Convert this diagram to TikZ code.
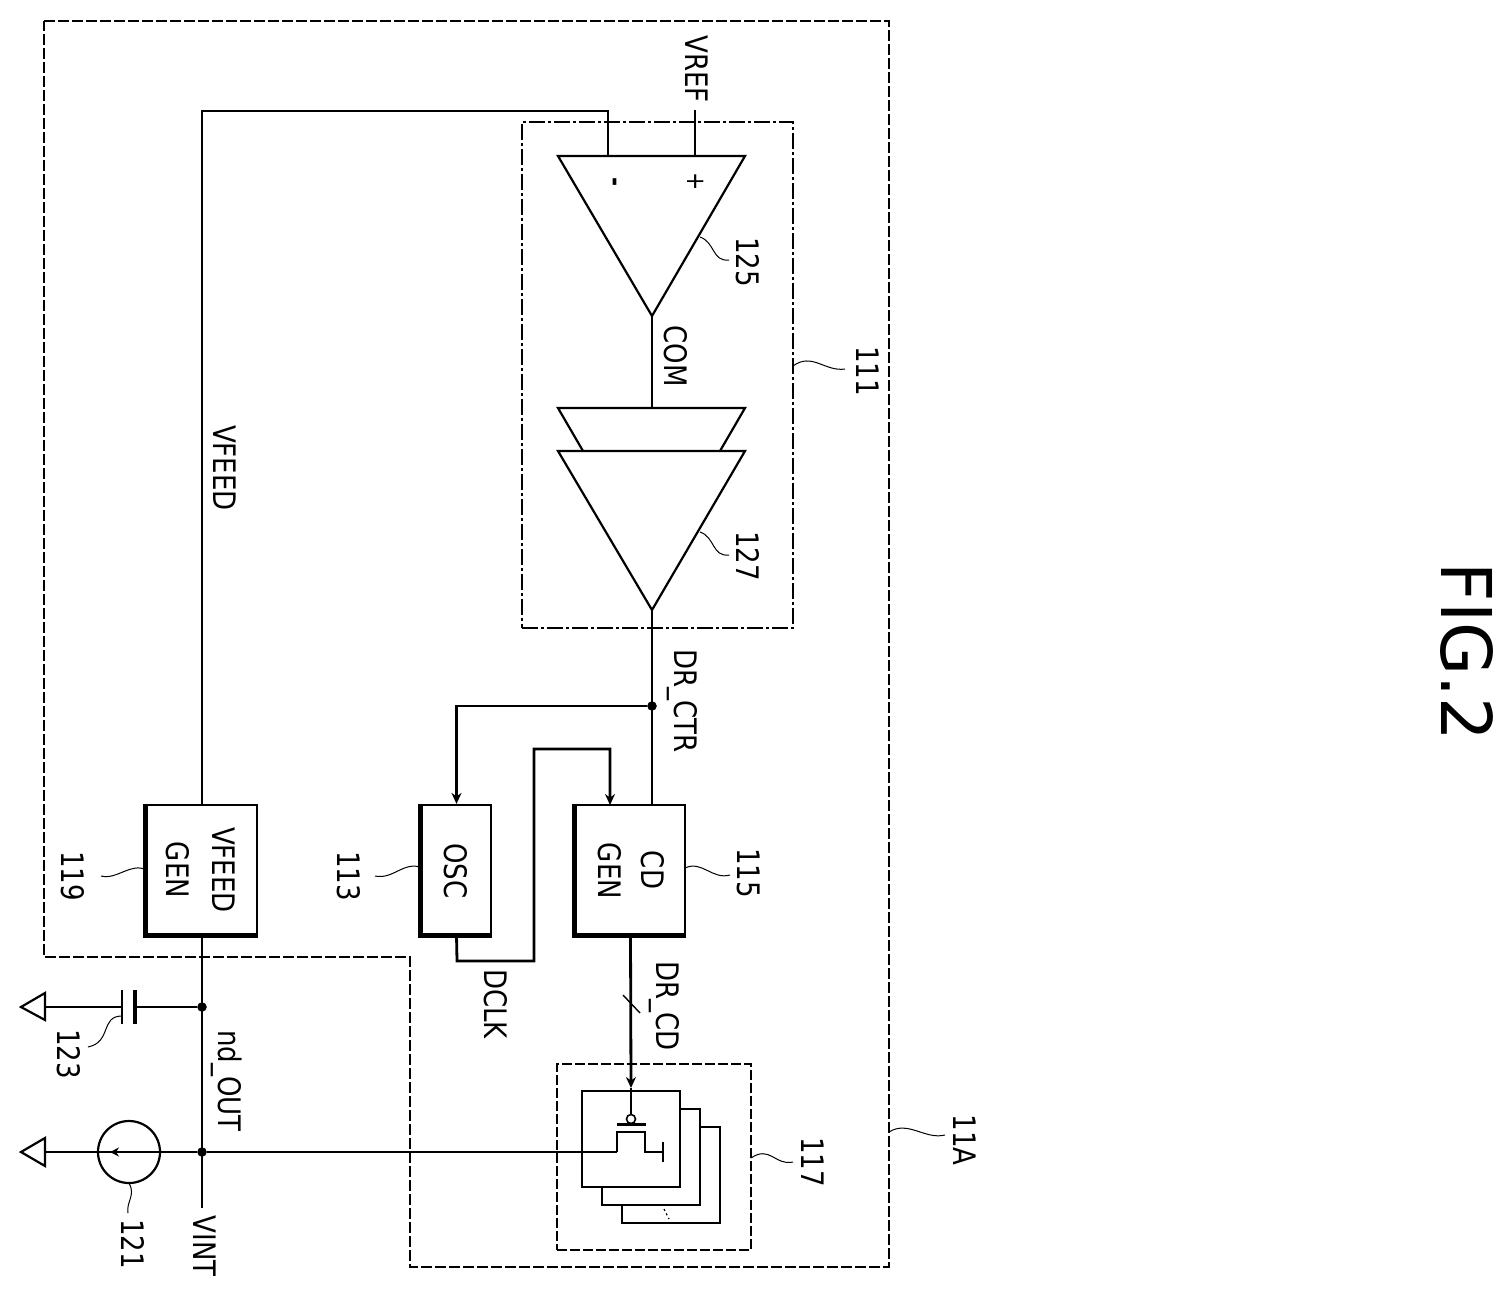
\documentclass[tikz,border=0pt]{standalone}
\usepackage{fontspec}
\setmainfont[FakeStretch=0.84]{DejaVu Sans}
\newfontfamily\figfont[FakeStretch=0.98]{DejaVu Sans}
\usetikzlibrary{arrows.meta}
\tikzset{
  wire/.style={line width=2.8pt,line join=miter},
  thin wire/.style={line width=2.2pt},
  flow/.style={wire,-{Stealth[length=11pt,width=10pt]}},
  lbl/.style={rotate=-90,inner sep=0pt,font=\fontsize{31}{33}\selectfont,text=black},
  fig/.style={rotate=-90,inner sep=0pt,font=\figfont\fontsize{70}{72}\selectfont,text=black},
  blk/.style={draw,line width=2.2pt,minimum width=#1,inner sep=0pt},
  heavy/.style={line width=5pt,line cap=butt,line join=miter},
  outer/.style={draw,line width=2.2pt,dash pattern=on 11pt off 3pt},
  dashdot/.style={draw,line width=2.2pt,dash pattern=on 16pt off 3pt on 3pt off 3pt},
  sub/.style={draw,line width=2.2pt,dash pattern=on 10pt off 3pt},
  lead/.style={line width=1pt},
  junction/.style={circle,fill=black,draw=black,inner sep=0pt,minimum size=9pt},
  gnd/.style={draw,line width=2.2pt,line join=miter,fill=white},
}
\begin{document}
\begin{tikzpicture}[x=1pt,y=-1pt]
\useasboundingbox (0,0) rectangle (1511,1298);
\fill[white] (0,0) rectangle (1511,1298);

% ---- enclosures
\path[outer] (44,21) -- (889,21) -- (889,1267) -- (410,1267) -- (410,957) -- (44,957) -- cycle;
\node[dashdot,minimum width=271pt,minimum height=506pt,inner sep=0pt] (b111) at (657.5,375) {};
\node[sub,minimum width=194pt,minimum height=186pt,inner sep=0pt] (b117) at (654,1157) {};

% ---- blocks
\node[blk=110pt,minimum height=129pt] (vgen) at (202,869.5) {};
\node[blk=69pt,minimum height=129pt] (osc) at (456.5,869.5) {};
\node[blk=109pt,minimum height=129pt] (cdgen) at (630.5,869.5) {};
\draw[heavy] (vgen.north west) -- (vgen.south west) -- (vgen.south east);
\draw[heavy] (osc.north west) -- (osc.south west) -- (osc.south east);
\draw[heavy] (cdgen.north west) -- (cdgen.south west) -- (cdgen.south east);
\node[lbl] at (224,870) {VFEED};
\node[lbl] at (178,870) {GEN};
\node[lbl] at (456,871) {OSC};
\node[lbl] at (653,870) {CD};
\node[lbl] at (610,871) {GEN};

% ---- amplifier coordinates
\coordinate (a1l) at (558,156);
\coordinate (a1r) at (745,156);
\coordinate (a1o) at (652,316);
\coordinate (a1m) at (608,156);
\coordinate (a1p) at (695,156);
\coordinate (bkl) at (558,408);
\coordinate (bkr) at (745,408);
\coordinate (bko) at (652,408);
\coordinate (bksl) at (583,451);
\coordinate (bksr) at (720,451);
\coordinate (a2l) at (558,451);
\coordinate (a2r) at (745,451);
\coordinate (a2o) at (652,610);
\coordinate (vreftop) at (695,110);
\coordinate (fbk) at (608,111);
\coordinate (fbl) at (202,111);

\draw[thin wire,line join=miter] (a1l) -- (a1r) -- (a1o) -- cycle;
\draw[thin wire] (bksl) -- (bkl) -- (bkr) -- (bksr);
\draw[thin wire,line join=miter,fill=white] (a2l) -- (a2r) -- (a2o) -- cycle;
\draw[wire] (a1p) -- (vreftop);
\draw[wire] (vgen.north) -- (fbl) -- (fbk) -- (a1m);
\draw[wire] (a1o) -- (bko);

% ---- control nets
\coordinate (crIn) at (652,805);
\node[junction] (jc) at (652,706) {};
\coordinate (oscIn) at (osc.north);
\coordinate (cdIn) at (610,805);
\coordinate (d1) at (457,961);
\coordinate (d2) at (534,961);
\coordinate (d3) at (534,749);
\coordinate (d4) at (610,749);
\draw[wire] (a2o) -- (crIn);
\draw[flow] (jc) -| (oscIn);
\draw[flow] (osc.south) -- (d1) -- (d2) -- (d3) -- (d4) -- (cdIn);

% ---- output transistor bank
\path[draw,line width=2.6pt,fill=white] (622,1127) rectangle (720,1223);
\path[draw,line width=2.6pt,fill=white] (602,1109) rectangle (700,1205);
\node[draw,line width=2.6pt,fill=white,minimum width=98pt,minimum height=96pt,inner sep=0pt] (bank) at (631,1139) {};
\draw[line width=1.2pt,dash pattern=on 2pt off 3pt] (664,1209) -- (669,1219);

\coordinate (gbar l) at (617,1124);
\coordinate (gbar r) at (646,1124);
\node[circle,draw,line width=1.6pt,fill=white,inner sep=0pt,minimum size=9pt] (bub) at (631,1119) {};
\coordinate (gtap) at (631,1088);
\coordinate (ms) at (617,1152);
\coordinate (ms1) at (617,1132);
\coordinate (ms2) at (645,1132);
\coordinate (ms3) at (645,1152);
\coordinate (ms4) at (663,1152);
\coordinate (tb1) at (663,1142);
\coordinate (tb2) at (663,1162);
\draw[line width=3pt] (gbar l) -- (gbar r);
\draw[thin wire,line join=miter] (ms) -- (ms1) -- (ms2) -- (ms3) -- (ms4);
\draw[thin wire] (tb1) -- (tb2);
\draw[flow] (cdgen.south) -- (gtap);
\draw[wire] (gtap) -- (bub);

% bus slash
\coordinate (sl1) at (623,995);
\coordinate (sl2) at (640,1013);
\draw[line width=1.4pt] (sl1) -- (sl2);

% ---- supply rail
\node[junction] (jcap) at (202,1007) {};
\node[junction] (jout) at (202,1152) {};
\coordinate (vint) at (202,1208);
\draw[wire] (vgen.south) -- (vint);
\draw[wire] (jout) -- (ms);

% capacitor branch
\coordinate (c1) at (122,1007);
\coordinate (c2) at (135,1007);
\coordinate (g1) at (45,1007);
\coordinate (c1a) at (122,990);
\coordinate (c1b) at (122,1024);
\coordinate (c2a) at (135,990);
\coordinate (c2b) at (135,1024);
\draw[wire] (jcap) -- (c2);
\draw[wire] (c1) -- (g1);
\draw[line width=2pt] (c1a) -- (c1b);
\draw[line width=3.6pt] (c2a) -- (c2b);
\path[gnd] (21,1007) -- (45,993) -- (45,1020) -- cycle;

% current source branch
\node[circle,draw,line width=2.2pt,minimum size=62pt,inner sep=0pt] (isrc) at (129,1152) {};
\coordinate (g2) at (45,1152);
\coordinate (iarrow) at (110,1152);
\draw[wire] (jout) -- (g2);
\draw[line width=2pt,-{Stealth[open,length=9pt,width=9pt]}] (120,1152) -- (iarrow);
\path[gnd] (21,1152) -- (45,1138) -- (45,1166) -- cycle;

% ---- labels
\node[lbl] (tvref) at (697,69) {VREF};
\node[lbl] (t111) at (868,371) {111};
\node[lbl] (t125) at (748,262) {125};
\node[lbl] (tcom) at (676,356) {COM};
\node[lbl] (t127) at (748,556) {127};
\node[lbl] (tfeed) at (225,468) {VFEED};
\node[lbl] (tctr) at (682,701) {DR\_CTR};
\node[lbl] (t119) at (73,876) {119};
\node[lbl] (t113) at (349,876) {113};
\node[lbl] (t115) at (749,873) {115};
\node[lbl] (tclk) at (496,1004) {DCLK};
\node[lbl] (tcd) at (664,1006) {DR\_CD};
\node[lbl] (tnd) at (227,1081) {nd\_OUT};
\node[lbl] (t123) at (69,1054) {123};
\node[lbl] (t121) at (133,1244) {121};
\node[lbl] (tvint) at (205,1246) {VINT};
\node[lbl] (t117) at (813,1162) {117};
\node[lbl] (t11a) at (965,1140) {11A};
\node[fig] (tfig) at (1467,652) {FIG.2};
\node[lbl,font=\fontsize{26}{28}\selectfont] (tplus) at (696,182) {+};
\node[lbl,font=\bfseries\fontsize{26}{28}\selectfont] (tminus) at (612,182) {-};

% ---- leaders
\draw[lead] (793,366) .. controls (812,352) and (825,372) .. (845,369);
\draw[lead] (700,237) .. controls (715,242) and (712,262) .. (729,260);
\draw[lead] (700,532) .. controls (715,537) and (712,557) .. (729,555);
\draw[lead] (147,870) .. controls (130,862) and (118,880) .. (101,876);
\draw[lead] (422,868) .. controls (405,860) and (393,880) .. (375,876);
\draw[lead] (685,868) .. controls (702,860) and (712,880) .. (730,875);
\draw[lead] (751,1158) .. controls (770,1145) and (775,1166) .. (793,1162);
\draw[lead] (889,1132) .. controls (908,1120) and (925,1140) .. (945,1135);
\draw[lead] (122,1016) .. controls (100,1016) and (112,1042) .. (88,1047);
\draw[lead] (129,1183) .. controls (136,1195) and (126,1202) .. (128,1213);
\end{tikzpicture}
\end{document}
